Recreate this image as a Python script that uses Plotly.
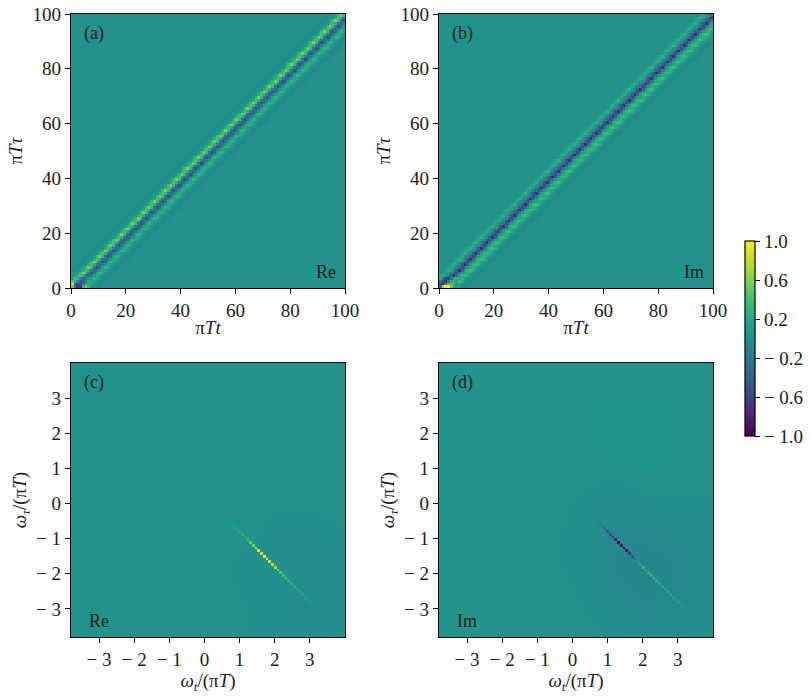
import plotly.graph_objects as go

W, H = 811, 697
FONT = "Liberation Serif"
FS = 19

# --- data: panels (a),(b): value vs. cell offset (t - tau) on a 100x100 grid
n_cells = 100
background_time = 0.02
offsets = [-10, -9, -8, -7, -6, -5, -4, -3, -2, -1, 0, 1, 2, 3, 4, 5, 6, 7, 8, 9, 10, 11, 12]
profile_re = [0.03, 0.02, 0.01, 0.0, -0.02, -0.03, 0.0, 0.08, 0.28, 0.5, 0.3, -0.18, -0.44, -0.24, 0.08, 0.26, 0.18, 0.06, -0.03, -0.06, -0.04, 0.0, 0.02]
profile_im = [0.03, 0.01, 0.0, -0.01, 0.0, 0.05, 0.14, 0.24, 0.08, -0.08, -0.38, -0.66, -0.26, 0.1, 0.26, 0.32, 0.2, 0.07, -0.03, -0.05, -0.03, 0.0, 0.02]
parity_re = [0.82, 1.18]
parity_im = [1.18, 0.82]
corner_re = [[0.5, -0.2, -0.7, -0.7, 0.3, 0.55, 0.3],
             [0.85, -0.3, -0.6, -0.5, -0.1, 0.2, 0.2],
             [0.5, 0.3, -0.1, -0.45, -0.4, -0.05, 0.2],
             [0.1, 0.4, 0.3, -0.1, -0.4, -0.3, 0.05]]
corner_im = [[-0.3, 0.7, 1.0, 1.0, 0.5, 0.2, 0.1],
             [-0.7, -0.8, -0.2, 0.4, 0.4, 0.3, 0.1],
             [-0.2, -0.6, -0.7, -0.2, 0.2, 0.3, 0.2],
             [0.2, -0.2, -0.6, -0.6, -0.1, 0.25, 0.3]]

# --- data: panels (c),(d): values along the anti-diagonal, from a start cell
start_re = 56
line_re = [0.04, 0.06, 0.1, 0.13, 0.12, 0.16, 0.2, 0.22, 0.3, 0.55, 0.6, 0.75, 0.9, 0.85, 1.0, 0.95, 0.85, 0.8, 0.7,
           0.5, 0.45, 0.38, 0.42, 0.3, 0.25, 0.2, 0.18, 0.15, 0.13, 0.1, 0.08, 0.06, 0.04]
start_im = 55
line_im = [-0.03, -0.06, -0.08, -0.12, -0.2, -0.3, -0.45, -0.55, -0.6, -0.8, -1.0, -0.9, -0.95, -0.9, -0.7, -0.5, -0.3,
           0.0, 0.2, 0.35, 0.3, 0.28, 0.28, 0.35, 0.28, 0.25, 0.22, 0.2, 0.22, 0.15, 0.12, 0.1, 0.1, 0.08, 0.06, 0.05, 0.04, 0.03]
coarse_axis = [-3.8, -2.8, -1.8, -0.8, 0.2, 1.2, 2.2, 3.2, 4.0]
coarse_re = [[0.02, 0.02, 0.02, 0.02, 0.02, 0.01, 0.0, 0.0, 0.0],
             [0.02, 0.02, 0.02, 0.02, 0.02, 0.01, 0.0, -0.01, 0.0],
             [0.02, 0.02, 0.02, 0.02, 0.02, 0.0, 0.0, -0.01, 0.0],
             [0.02, 0.02, 0.02, 0.02, 0.02, 0.02, -0.01, 0.0, 0.01],
             [0.02, 0.02, 0.02, 0.02, 0.02, 0.02, 0.02, 0.02, 0.02],
             [0.02, 0.02, 0.02, 0.02, 0.02, 0.03, 0.03, 0.02, 0.02],
             [0.02, 0.02, 0.02, 0.02, 0.02, 0.02, 0.02, 0.02, 0.02],
             [0.02, 0.02, 0.02, 0.02, 0.02, 0.02, 0.02, 0.02, 0.02],
             [0.02, 0.02, 0.02, 0.02, 0.02, 0.02, 0.02, 0.02, 0.02]]
coarse_im = [[0.03, 0.03, 0.03, 0.03, 0.02, 0.01, -0.02, 0.0, 0.01],
             [0.03, 0.03, 0.03, 0.03, 0.01, -0.03, -0.06, -0.03, -0.01],
             [0.03, 0.03, 0.03, 0.02, 0.0, -0.06, -0.08, -0.05, -0.01],
             [0.03, 0.03, 0.03, 0.02, 0.0, -0.05, -0.04, -0.02, 0.0],
             [0.03, 0.03, 0.03, 0.02, 0.01, -0.01, 0.01, 0.01, 0.01],
             [0.03, 0.03, 0.03, 0.03, 0.02, 0.03, 0.04, 0.02, 0.02],
             [0.03, 0.03, 0.03, 0.03, 0.03, 0.04, 0.04, 0.03, 0.02],
             [0.03, 0.03, 0.03, 0.03, 0.03, 0.03, 0.03, 0.03, 0.03],
             [0.03, 0.03, 0.03, 0.03, 0.03, 0.03, 0.03, 0.03, 0.03]]
ticks_time = [0, 20, 40, 60, 80, 100]
ticks_freq_x = [-3, -2, -1, 0, 1, 2, 3]
ticks_freq_y = [-3, -2, -1, 0, 1, 2, 3]
cbar_vals = [1.0, 0.6, 0.2, -0.2, -0.6, -1.0]
cbar_text = ["1.0", "0.6", "0.2", "\u2212 0.2", "\u2212 0.6", "\u2212 1.0"]
panel_tags = ["(a)", "(b)", "(c)", "(d)"]
part_tags = ["Re", "Im", "Re", "Im"]


def time_matrix(profile, parity, corner):
    z = [[background_time] * n_cells for _ in range(n_cells)]
    for row in range(n_cells):
        for d, v in zip(offsets, profile):
            col = row + d
            if 0 <= col < n_cells:
                z[row][col] = v * parity[row % 2]
    for r, vals in enumerate(corner):
        for c, v in enumerate(vals):
            z[r][c] = v
    return z


def line_matrix(start, vals):
    z = [[None] * n_cells for _ in range(n_cells)]
    for k, v in enumerate(vals):
        col = start + k
        z[n_cells - 1 - col][col] = v
    return z


def paper_x(px):
    return px / W


def paper_y(px):
    return 1 - px / H


cell_time = [i + 0.5 for i in range(n_cells)]
cell_freq = [-3.8 + 0.078 * (i + 0.5) for i in range(n_cells)]

panels = [(71, 345, 14, 288), (439, 713, 14, 288), (71, 345, 363, 637), (439, 713, 363, 637)]

fig = go.Figure()
common = dict(colorscale="Viridis", zmin=-1, zmax=1, showscale=False, hoverinfo="skip")
fig.add_trace(go.Heatmap(x=cell_time, y=cell_time, z=time_matrix(profile_re, parity_re, corner_re), xaxis="x", yaxis="y", **common))
fig.add_trace(go.Heatmap(x=cell_time, y=cell_time, z=time_matrix(profile_im, parity_im, corner_im), xaxis="x2", yaxis="y2", **common))
fig.add_trace(go.Heatmap(x=coarse_axis, y=coarse_axis, z=coarse_re, zsmooth="best", xaxis="x3", yaxis="y3", **common))
fig.add_trace(go.Heatmap(x=cell_freq, y=cell_freq, z=line_matrix(start_re, line_re), xaxis="x3", yaxis="y3", **common))
fig.add_trace(go.Heatmap(x=coarse_axis, y=coarse_axis, z=coarse_im, zsmooth="best", xaxis="x4", yaxis="y4", **common))
fig.add_trace(go.Heatmap(x=cell_freq, y=cell_freq, z=line_matrix(start_im, line_im), xaxis="x4", yaxis="y4", **common))

# colour bar: shown by the last panel's line trace
fig.data[-1].update(
    showscale=True,
    colorbar=dict(
        x=paper_x(745), xanchor="left", y=paper_y(241), yanchor="top",
        len=(436 - 241) / H, lenmode="fraction", thickness=10, thicknessmode="pixels",
        xpad=0, ypad=0, outlinewidth=1.2, outlinecolor="black",
        tickmode="array", tickvals=cbar_vals, ticktext=cbar_text,
        ticks="outside", ticklen=5, tickcolor="black", tickwidth=1,
        tickfont=dict(family=FONT, size=FS, color="#222222"),
    ),
)

axis_common = dict(
    showgrid=False, zeroline=False, showline=True, mirror=True, linecolor="black", linewidth=1.3,
    ticks="outside", ticklen=5, tickwidth=1.2, tickcolor="black", automargin=False,
    tickfont=dict(family=FONT, size=FS, color="#222222"),
)
layout = dict(
    width=W, height=H, margin=dict(l=0, r=0, t=0, b=0, autoexpand=False), paper_bgcolor="white", plot_bgcolor="white",
    showlegend=False, font=dict(family=FONT, size=FS, color="#222222"),
)
x_titles = ["π<i>Tt</i>", "π<i>Tt</i>", "<i>ω<sub>t</sub></i>/(π<i>T</i>)", "<i>ω<sub>t</sub></i>/(π<i>T</i>)"]
y_titles = ["π<i>Tτ</i>", "π<i>Tτ</i>", "<i>ω<sub>τ</sub></i>/(π<i>T</i>)", "<i>ω<sub>τ</sub></i>/(π<i>T</i>)"]
annotations = []
for k, (l, r, t, b) in enumerate(panels):
    sfx = "" if k == 0 else str(k + 1)
    is_time = k < 2
    xr = [0, 100] if is_time else [-3.8, 4.0]
    xt = ticks_time if is_time else ticks_freq_x
    yt = ticks_time if is_time else ticks_freq_y
    layout["xaxis" + sfx] = dict(
        domain=[paper_x(l), paper_x(r)], range=xr, tickvals=xt,
        ticktext=[str(v).replace("-", "\u2212 ") for v in xt], anchor="y" + sfx,
        title=dict(text=x_titles[k], font=dict(family=FONT, size=FS), standoff=0 if is_time else 4), **axis_common)
    layout["yaxis" + sfx] = dict(
        domain=[paper_y(b), paper_y(t)], range=xr, tickvals=yt,
        ticktext=[str(v).replace("-", "\u2212 ") for v in yt], anchor="x" + sfx,
        title=dict(text=y_titles[k], font=dict(family=FONT, size=FS), standoff=4), **axis_common)
    annotations.append(dict(xref="paper", yref="paper", x=paper_x(l + 11), y=paper_y(t + 19), text=panel_tags[k],
                            showarrow=False, xanchor="left", yanchor="middle", font=dict(family=FONT, size=18, color="#222222")))
    if k < 2:
        px_part = r - 7
        anchor = "right"
        py_part = b - 16
    else:
        px_part = l + 16
        anchor = "left"
        py_part = b - 16
    annotations.append(dict(xref="paper", yref="paper", x=paper_x(px_part), y=paper_y(py_part), text=part_tags[k],
                            showarrow=False, xanchor=anchor, yanchor="middle", font=dict(family=FONT, size=18, color="#222222")))
layout["annotations"] = annotations
fig.update_layout(**layout)
fig.write_html("out.html", post_script="document.body.style.margin='0';", config=dict(displayModeBar=False))
